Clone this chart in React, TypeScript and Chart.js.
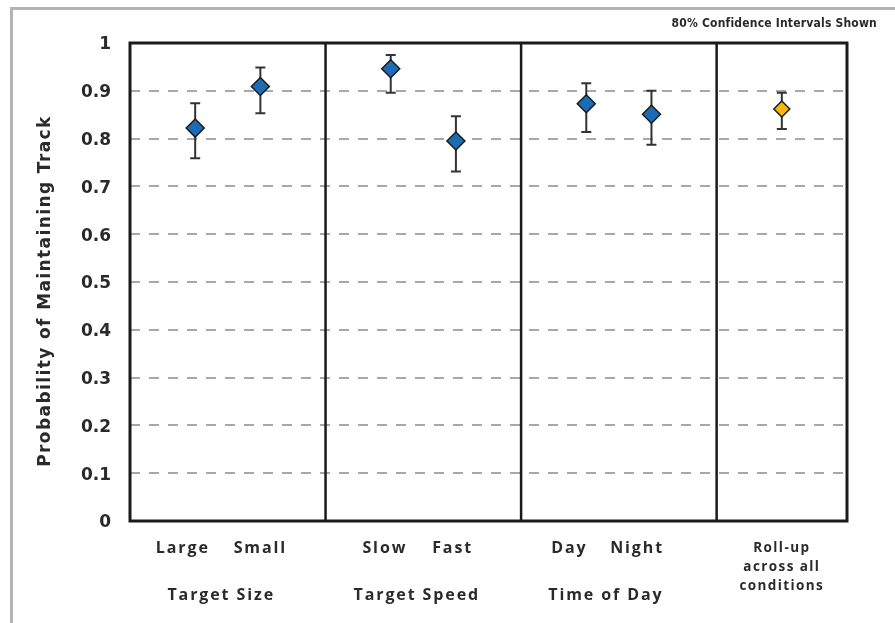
import React, { useEffect, useRef } from "react";
import { Chart, registerables } from "chart.js";

Chart.register(...registerables);

const categories = ["Large", "Small", "Slow", "Fast", "Day", "Night", "Roll-up|across all|conditions"];
const xPositions = [1, 2, 4, 5, 7, 8, 10];
const means = [0.822, 0.909, 0.946, 0.795, 0.873, 0.851, 0.862];
const lower = [0.759, 0.853, 0.896, 0.731, 0.814, 0.787, 0.82];
const upper = [0.874, 0.949, 0.975, 0.847, 0.916, 0.9, 0.896];
const groups = ["Target Size", "Target Speed", "Time of Day"];
const groupBounds = [0, 3, 6, 9, 11];
const yTickLabels = ["0", "0.1", "0.2", "0.3", "0.4", "0.5", "0.6", "0.7", "0.8", "0.9", "1"];
const yTitle = "Probability of Maintaining Track";
const note = "80% Confidence Intervals Shown";

const BLUE = "#1b6db3";
const GOLD = "#f6b80c";
const INK = "#2a2a2a";

// small horizontal nudges (in axis units) for the category labels, as in the source
const labelNudge = [-0.19, 0, -0.09, -0.05, -0.26, -0.22, 0];
const groupNudge = [-0.1, -0.1, -0.2];

const customPlugin = {
  id: "custom",
  beforeDatasetsDraw(chart: any) {
    const ctx = chart.ctx;
    const xs = chart.scales.x;
    const ys = chart.scales.y;
    ctx.save();
    ctx.strokeStyle = "#333";
    ctx.lineWidth = 2;
    for (let i = 0; i < xPositions.length; i++) {
      const px = xs.getPixelForValue(xPositions[i]);
      const top = ys.getPixelForValue(upper[i]);
      const bot = ys.getPixelForValue(lower[i]);
      ctx.beginPath();
      ctx.moveTo(px, top);
      ctx.lineTo(px, bot);
      ctx.moveTo(px - 5, top);
      ctx.lineTo(px + 5, top);
      ctx.moveTo(px - 5, bot);
      ctx.lineTo(px + 5, bot);
      ctx.stroke();
    }
    ctx.restore();
  },
  afterDraw(chart: any) {
    const ctx = chart.ctx;
    const xs = chart.scales.x;
    const ys = chart.scales.y;
    const area = chart.chartArea;
    ctx.save();
    // outer frame (top and left)
    ctx.fillStyle = "#b4b4b4";
    ctx.fillRect(10, 7, 885, 3);
    ctx.fillRect(10, 7, 3, 616);

    // plot box
    ctx.strokeStyle = "#1a1a1a";
    ctx.lineWidth = 3;
    ctx.strokeRect(area.left, area.top, area.right - area.left, area.bottom - area.top);
    ctx.lineWidth = 2.5;
    for (let i = 1; i < groupBounds.length - 1; i++) {
      const px = xs.getPixelForValue(groupBounds[i]);
      ctx.beginPath();
      ctx.moveTo(px, area.top);
      ctx.lineTo(px, area.bottom);
      ctx.stroke();
    }

    // note
    ctx.fillStyle = INK;
    ctx.font = 'bold 12px "DejaVu Sans Condensed", "DejaVu Sans"';
    (ctx as any).letterSpacing = "0.2px";
    ctx.textAlign = "right";
    ctx.textBaseline = "middle";
    ctx.fillText(note, 877, 24);

    // category labels
    ctx.textAlign = "center";
    for (let i = 0; i < categories.length; i++) {
      const px = xs.getPixelForValue(xPositions[i] + labelNudge[i]);
      const lines = categories[i].split("|");
      if (lines.length === 1) {
        ctx.font = 'bold 16px "Open Sans"';
        (ctx as any).letterSpacing = "1.9px";
        ctx.fillText(lines[0], px, 548);
      } else {
        ctx.font = 'bold 13.5px "Open Sans"';
        (ctx as any).letterSpacing = "1.4px";
        lines.forEach((ln, j) => ctx.fillText(ln, px, 548 + j * 19));
      }
    }
    // group labels
    ctx.font = 'bold 16px "Open Sans"';
    (ctx as any).letterSpacing = "1.9px";
    for (let g = 0; g < groups.length; g++) {
      const mid = (groupBounds[g] + groupBounds[g + 1]) / 2 + groupNudge[g];
      ctx.fillText(groups[g], xs.getPixelForValue(mid), 595);
    }

    // y title
    (ctx as any).letterSpacing = "1.4px";
    ctx.font = 'bold 17px "DejaVu Sans"';
    ctx.translate(46, (ys.getPixelForValue(0) + ys.getPixelForValue(1)) / 2 + 9);
    ctx.rotate(-Math.PI / 2);
    ctx.fillText(yTitle, 0, 0);
    ctx.restore();
  },
};

export default function App() {
  const ref = useRef<HTMLCanvasElement | null>(null);
  useEffect(() => {
    if (!ref.current) return;
    const chart = new Chart(ref.current, {
      type: "scatter",
      data: {
        datasets: [
          {
            data: xPositions.map((x, i) => ({ x, y: means[i] })),
            pointStyle: "rectRot",
            pointRadius: xPositions.map((_, i) => (i === xPositions.length - 1 ? 8 : 9)),
            pointHoverRadius: xPositions.map((_, i) => (i === xPositions.length - 1 ? 8 : 9)),
            backgroundColor: xPositions.map((_, i) => (i === xPositions.length - 1 ? GOLD : BLUE)),
            borderColor: "#1b1b1b",
            borderWidth: 1.5,
          },
        ],
      },
      options: {
        animation: false,
        responsive: false,
        events: [],
        layout: { padding: { left: 10, top: 43, right: 48, bottom: 0 } },
        plugins: { legend: { display: false }, tooltip: { enabled: false } },
        scales: {
          x: {
            type: "linear",
            min: 0,
            max: 11,
            grid: { display: false },
            border: { display: false },
            ticks: { display: false },
            afterFit: (s: any) => {
              s.height = 102;
            },
          },
          y: {
            min: 0,
            max: 1,
            ticks: {
              stepSize: 0.1,
              color: INK,
              padding: 19,
              labelOffset: 2,
              font: { family: '"DejaVu Sans"', size: 17, weight: "bold" },
              callback: (_v: any, i: number) => yTickLabels[i],
            },
            grid: {
              drawTicks: false,
              lineWidth: 2,
              color: (c: any) =>
                c.tick && (c.tick.value <= 0.001 || c.tick.value >= 0.999) ? "rgba(0,0,0,0)" : "#a8a8a8",
            },
            border: { display: false, dash: [10, 9] },
            afterFit: (s: any) => {
              s.width = 120;
            },
          },
        },
      },
      plugins: [customPlugin],
    });
    return () => chart.destroy();
  }, []);
  return (
    <div style={{ position: "fixed", left: 0, top: 0, width: 895, height: 623, background: "#fff" }}>
      <canvas ref={ref} width={895} height={623} style={{ display: "block" }} />
    </div>
  );
}
